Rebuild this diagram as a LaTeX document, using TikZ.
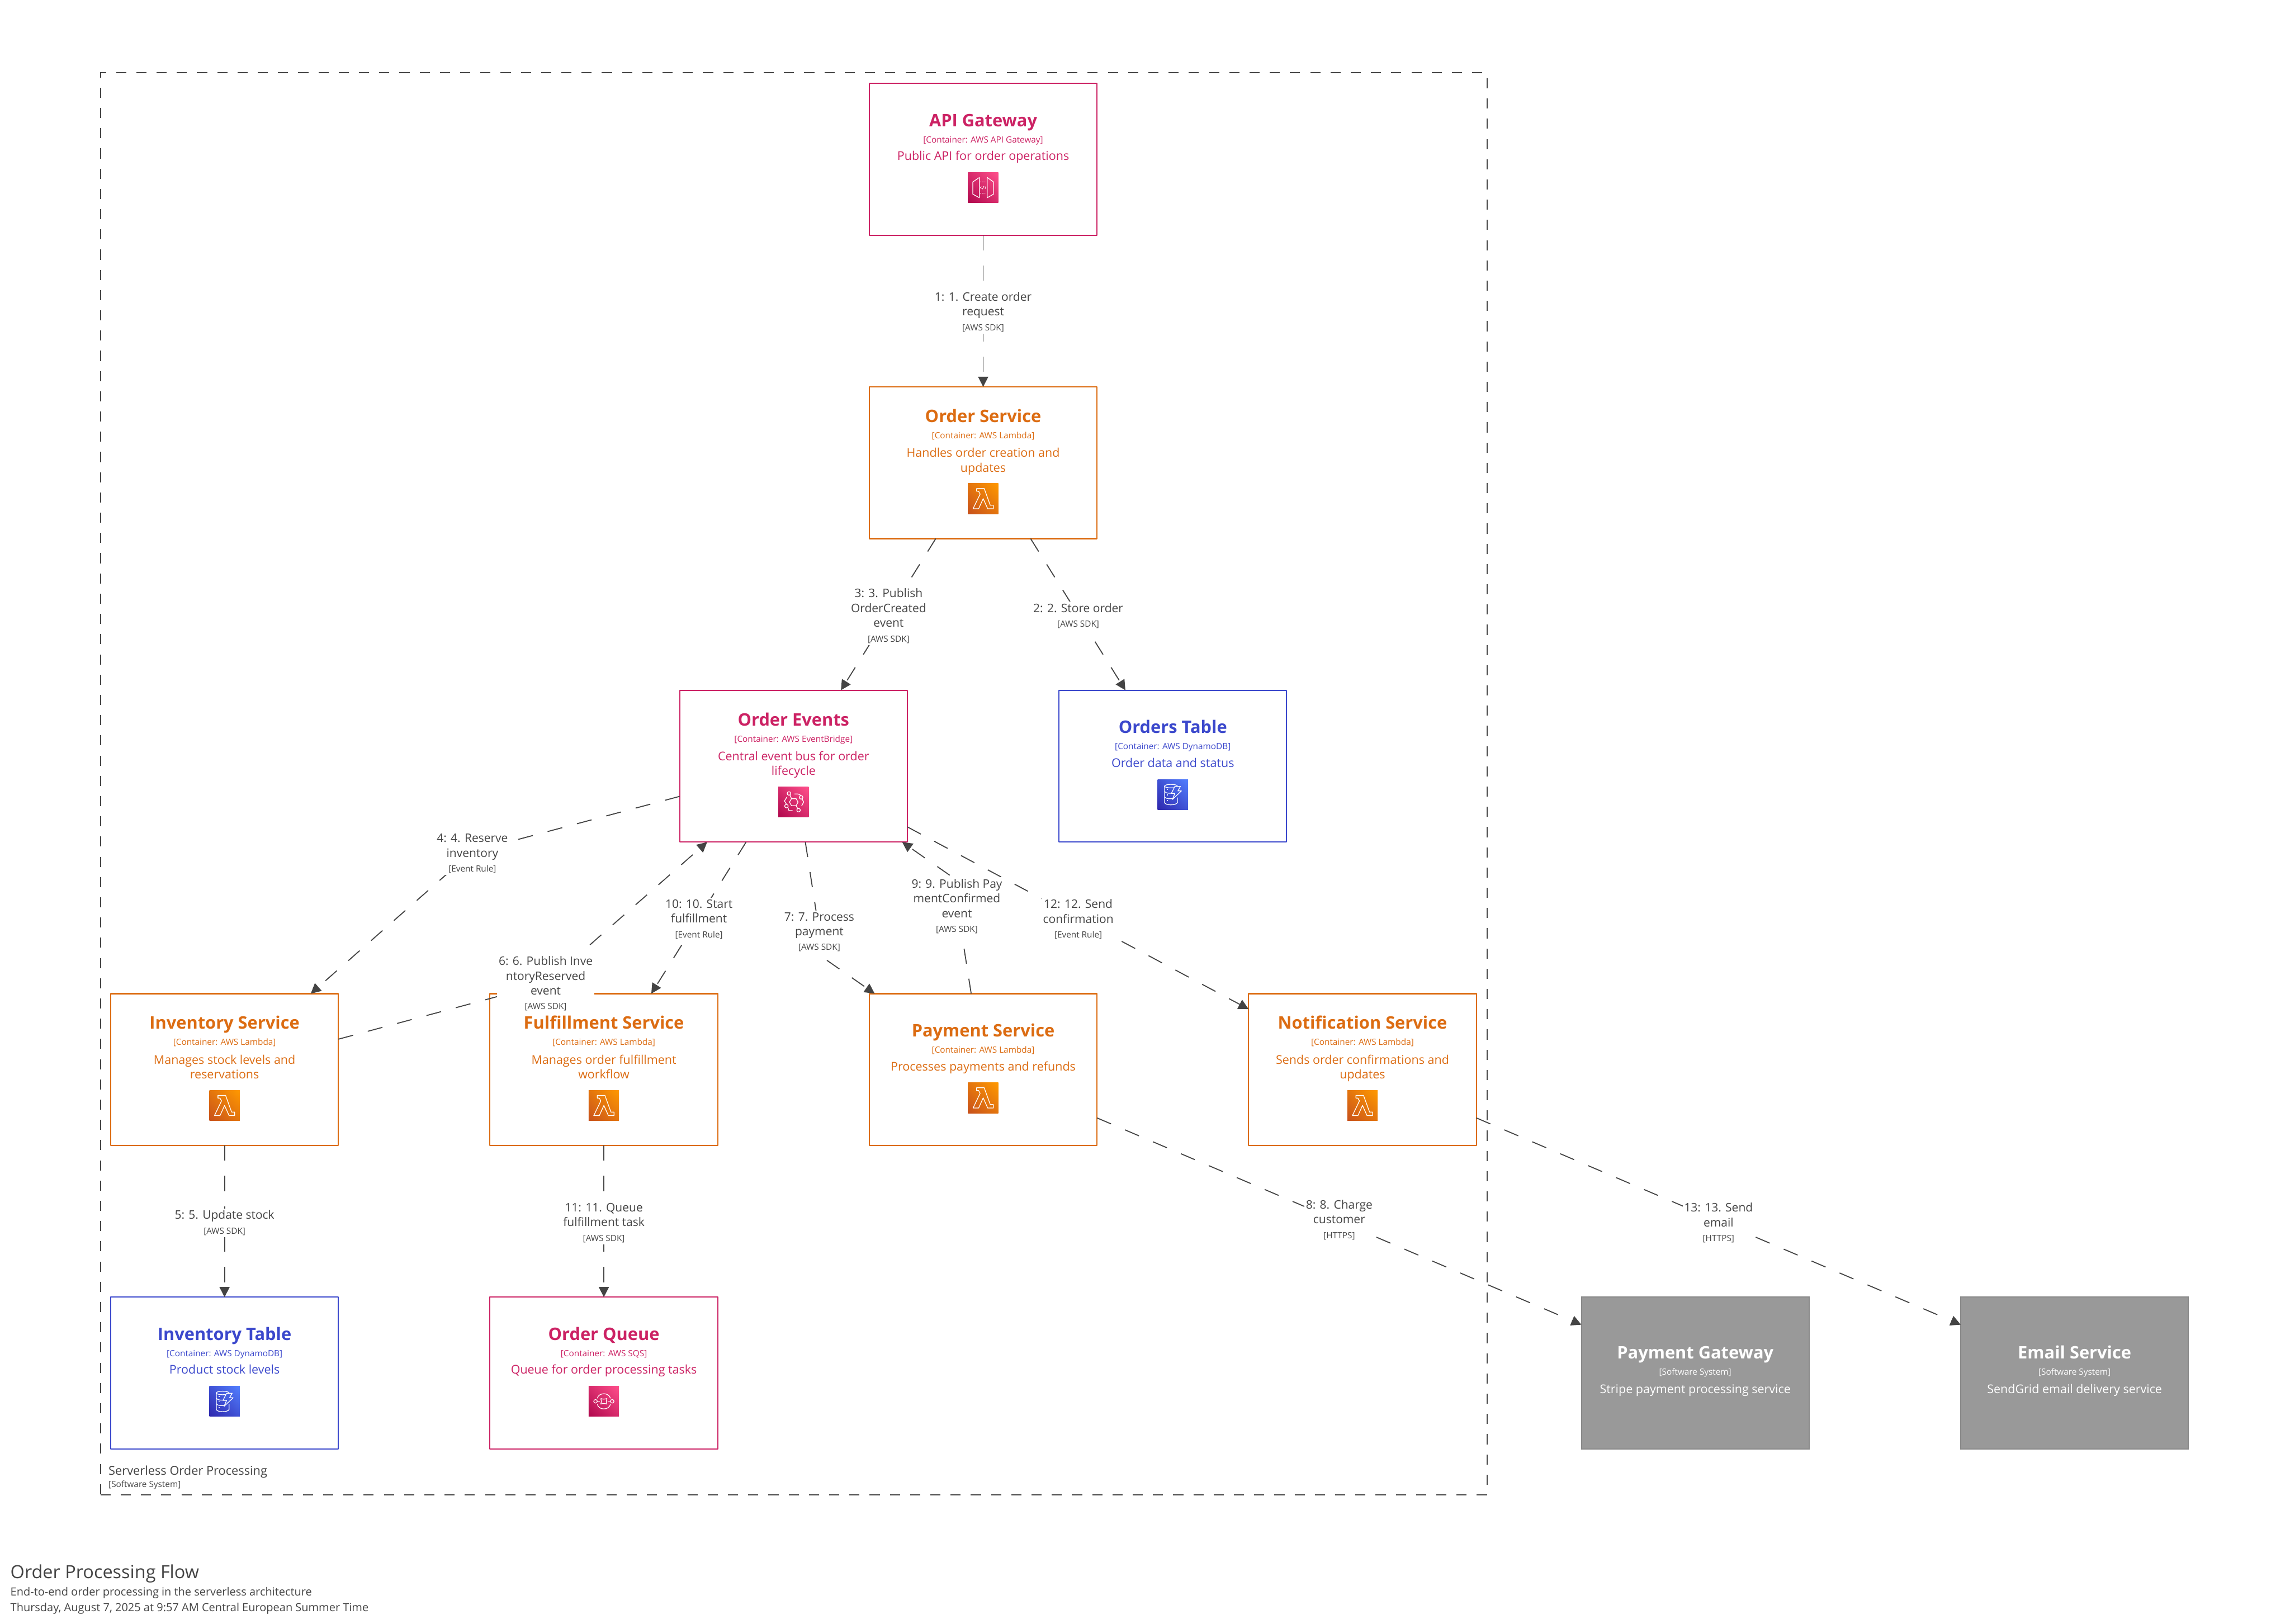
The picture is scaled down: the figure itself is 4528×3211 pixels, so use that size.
\documentclass[tikz,border=0pt]{standalone}
\usepackage{fontspec}
\setmainfont{Open Sans}
\usetikzlibrary{arrows.meta,calc,shadings}
\definecolor{cpink}{HTML}{CC2264}
\definecolor{corange}{HTML}{DC6C12}
\definecolor{cblue}{HTML}{3B48CC}
\definecolor{cink}{HTML}{444444}
\definecolor{cgrey}{HTML}{999999}
\definecolor{cgreyb}{HTML}{8A8A8A}
\newcommand{\ftitle}{\fontsize{9.68}{11}\selectfont\bfseries}
\newcommand{\ftech}{\fontsize{4.82}{8.25}\selectfont}
\newcommand{\fdesc}{\fontsize{6.75}{8.25}\selectfont}
\newcommand{\flbl}{\fontsize{6.6}{8.3}\selectfont}
\newcommand{\fpage}{\fontsize{6.28}{8.25}\selectfont}
\tikzset{
  x=0.01cm,y=-0.01cm,
  sbox/.style={draw=#1,line width=0.65pt,fill=white,rectangle,minimum width=4.5cm,minimum height=3cm,inner sep=0pt,outer sep=0pt,line join=round},
  extbox/.style={draw=cgreyb,line width=0.65pt,fill=cgrey,rectangle,minimum width=4.5cm,minimum height=3cm,inner sep=0pt,outer sep=0pt},
  ttl/.style={anchor=base,inner sep=0pt,font=\ftitle},
  tech/.style={anchor=base,inner sep=0pt,font=\ftech},
  dsc/.style={anchor=base,inner sep=0pt,font=\fdesc},
  conn/.style={draw=cink,line width=0.57pt,dash pattern=on 8.54pt off 8.54pt,-{Triangle[length=5.7pt,width=5.7pt]}},
  lbl/.style={fill=white,text=cink,inner xsep=0.85pt,inner ysep=1pt,align=center,font=\flbl},
  plain/.style={anchor=base west,inner sep=0pt,text=cink},
  ico/.style={draw=white,line width=0.4pt,line join=round},
}
% \svc{name}{x}{y}{colour}{title}{tech}{desc}{desc2}{offset}
\newcommand{\svc}[9]{%
  \node[sbox=#4] (#1) at (#2+225,#3+150) {};
  \node[ttl,text=#4] (#1T) at (#2+225,#3+#9) {#5};
  \node[tech,text=#4] (#1C) at (#2+225,#3+#9+32) {[Container: #6]};
  \ifx&#8&\node[dsc,text=#4] (#1D) at (#2+225,#3+#9+67) {#7};%
  \else\node[dsc,text=#4] (#1D) at (#2+225,#3+#9+69) {#7};%
  \node[dsc,text=#4] (#1E) at (#2+225,#3+#9+98) {#8};\fi
}
\newcommand{\ext}[5]{%
  \node[extbox] (#1) at (#2+225,#3+150) {};
  \node[ttl,text=white] (#1T) at (#2+225,#3+122) {#4};
  \node[tech,text=white] (#1C) at (#2+225,#3+154) {[Software System]};
  \node[dsc,text=white] (#1D) at (#2+225,#3+190) {#5};
}
\newcommand{\icobg}[4]{% x y dark light
  \shade[lower left=#3,upper right=#4,lower right=#3!50!#4,upper left=#3!50!#4] (#1,#2) rectangle (#1+60,#2+60);
}
\newcommand{\icolambda}[2]{\icobg{#1}{#2}{cLa}{cLb}
  \begin{scope}[shift={(#1,#2)}]
  \draw[ico] (17,10)--(32,10)--(44,43)--(50,43)--(50,50)--(39,50)--(30,30)--(21,50)--(10,50)--(24,21)--(21,15.5)--(17,15.5)--cycle;
  \end{scope}}
\newcommand{\icoapi}[2]{\icobg{#1}{#2}{cPa}{cPb}
  \begin{scope}[shift={(#1,#2)}]
  \draw[ico] (9.6,18.7)--(22.5,10)--(22.5,50)--(9.6,43)--cycle;
  \draw[ico] (38,10)--(50.4,18.7)--(50.4,43)--(38,50)--cycle;
  \draw[ico,dash pattern=on 0.5pt off 0.5pt] (24,19)--(37,19) (24,41)--(37,41);
  \draw[ico,line width=0.3pt] (26.5,28)--(24.5,30)--(26.5,32) (33.5,28)--(35.5,30)--(33.5,32) (31.5,27)--(28.5,33);
  \end{scope}}
\newcommand{\icobus}[2]{\icobg{#1}{#2}{cPa}{cPb}
  \begin{scope}[shift={(#1,#2)}]
  \draw[ico] (22,30)--(26,23.3)--(35,23.3)--(39,30)--(35,37.3)--(26,37.3)--cycle;
  \draw[ico] (21,13) circle[radius=3.5] (45,20.7) circle[radius=3.5] (16,38) circle[radius=3.5] (40,46) circle[radius=3.5];
  \draw[ico] (23,16)--(26,23.3) (32,14)--(39,14)--(45,17) (47,24)--(50,30)--(46,38) (16,34)--(12,28)--(17,20) (19,41)--(21,47)--(28,47) (35,37.3)--(38.5,43);
  \end{scope}}
\newcommand{\icoqueue}[2]{\icobg{#1}{#2}{cPa}{cPb}
  \begin{scope}[shift={(#1,#2)}]
  \draw[ico] (17,24) .. controls (20,12) and (40,12) .. (43,24);
  \draw[ico] (17,36) .. controls (20,48) and (40,48) .. (43,36);
  \draw[ico] (13.5,30) circle[radius=3.5] (46.5,30) circle[radius=3.5];
  \draw[ico] (17,30)--(22.5,30) (37.5,30)--(43,30);
  \draw[ico] (24,24.5) .. controls (28,26) and (32,26) .. (36,24.5) .. controls (34.5,28) and (34.5,32) .. (36,35.5) .. controls (32,34) and (28,34) .. (24,35.5) .. controls (25.5,32) and (25.5,28) .. (24,24.5);
  \end{scope}}
\newcommand{\icodb}[2]{\icobg{#1}{#2}{cBa}{cBb}
  \begin{scope}[shift={(#1,#2)}]
  \draw[ico] (26.3,13.5) ellipse[x radius=12.7,y radius=3.5];
  \draw[ico] (13.7,13.5)--(13.7,46) .. controls (15,52) and (37,52) .. (39,46)--(39,36);
  \draw[ico] (13.7,24) .. controls (16,28) and (25,28) .. (29,27.5);
  \draw[ico] (13.7,35) .. controls (16,39) and (26,39) .. (31,38);
  \draw[ico] (18,20.5)--(20,20.5) (18,31)--(20,31) (18,42)--(20,42);
  \draw[ico,fill=cBb!65!cBa] (34,14)--(45,14)--(40,23)--(47,23)--(29,40)--(34,28)--(27,28)--cycle;
  \end{scope}}
\definecolor{cLa}{HTML}{C8511B}\definecolor{cLb}{HTML}{FF9900}
\definecolor{cPa}{HTML}{B0084D}\definecolor{cPb}{HTML}{FF4F8B}
\definecolor{cBa}{HTML}{2E27AD}\definecolor{cBb}{HTML}{527FFF}
\begin{document}
\begin{tikzpicture}
\useasboundingbox (0,0) rectangle (4528,3211);
\fill[white] (0,0) rectangle (4528,3211);
% boundary
\node[rectangle,draw=cink,line width=0.62pt,dash pattern=on 5.69pt off 5.69pt,minimum width=27.4cm,minimum height=28.1cm,inner sep=0pt,outer sep=0pt] (boundary) at (1569.5,1550) {};
\node[plain,font=\fontsize{6.85}{8.25}\selectfont] (boundaryT) at (214,2917) {Serverless Order Processing};
\node[plain,font=\ftech] (boundaryC) at (214,2941) {[Software System]};
% boxes
\svc{api}{1719}{165}{cpink}{API Gateway}{AWS API Gateway}{Public API for order operations}{}{85}
\icoapi{1914}{341}
\svc{ordersvc}{1719}{765}{corange}{Order Service}{AWS Lambda}{Handles order creation and}{updates}{70}
\icolambda{1914}{956}
\svc{events}{1344}{1365}{cpink}{Order Events}{AWS EventBridge}{Central event bus for order}{lifecycle}{70}
\icobus{1539}{1556}
\svc{otable}{2094}{1365}{cblue}{Orders Table}{AWS DynamoDB}{Order data and status}{}{85}
\icodb{2289}{1541}
\svc{inv}{219}{1965}{corange}{Inventory Service}{AWS Lambda}{Manages stock levels and}{reservations}{70}
\icolambda{414}{2156}
\svc{ful}{969}{1965}{corange}{Fulfillment Service}{AWS Lambda}{Manages order fulfillment}{workflow}{70}
\icolambda{1164}{2156}
\svc{pay}{1719}{1965}{corange}{Payment Service}{AWS Lambda}{Processes payments and refunds}{}{85}
\icolambda{1914}{2141}
\svc{notif}{2469}{1965}{corange}{Notification Service}{AWS Lambda}{Sends order confirmations and}{updates}{70}
\icolambda{2664}{2156}
\svc{itable}{219}{2565}{cblue}{Inventory Table}{AWS DynamoDB}{Product stock levels}{}{85}
\icodb{414}{2741}
\svc{queue}{969}{2565}{cpink}{Order Queue}{AWS SQS}{Queue for order processing tasks}{}{85}
\icoqueue{1164}{2741}
\ext{gateway}{3127}{2565}{Payment Gateway}{Stripe payment processing service}
\ext{email}{3877}{2565}{Email Service}{SendGrid email delivery service}
% connector waypoints
\coordinate (w4) at (934,1684);
\coordinate (w6) at (1079,1945);
\coordinate (w7) at (1628,1894);
\coordinate (w9) at (1884,1735);
% connectors
\draw[conn] (api) -- (ordersvc);
\draw[conn] (ordersvc) -- (otable);
\draw[conn] (ordersvc) -- (events);
\draw[conn] (events) -- (w4) -- (inv);
\draw[conn] (inv) -- (itable);
\draw[conn] (inv) -- (w6) -- (events);
\draw[conn] (events) -- (w7) -- (pay);
\draw[conn] (pay) -- (gateway);
\draw[conn] (pay) -- (w9) -- (events);
\draw[conn] (events) -- (ful);
\draw[conn] (ful) -- (queue);
\draw[conn] (events) -- (notif);
\draw[conn] (notif) -- (email);
% labels
\node[lbl] (l1) at (1944,617) {1: 1. Create order\\request\\\ftech [AWS SDK]};
\node[lbl] (l2) at (2132,1218) {2: 2. Store order\\\ftech [AWS SDK]};
\node[lbl] (l3) at (1757,1218) {3: 3. Publish\\OrderCreated\\event\\\ftech [AWS SDK]};
\node[lbl] (l4) at (934,1688) {4: 4. Reserve\\inventory\\\ftech [Event Rule]};
\node[lbl] (l5) at (444,2418) {5: 5. Update stock\\\ftech [AWS SDK]};
\node[lbl] (l6) at (1079,1945) {6: 6. Publish Inve\\ntoryReserved\\event\\\ftech [AWS SDK]};
\node[lbl] (l7) at (1620,1843) {7: 7. Process\\payment\\\ftech [AWS SDK]};
\node[lbl] (l8) at (2648,2412) {8: 8. Charge\\customer\\\ftech [HTTPS]};
\node[lbl] (l9) at (1892,1792) {9: 9. Publish Pay\\mentConfirmed\\event\\\ftech [AWS SDK]};
\node[lbl] (l10) at (1382,1818) {10: 10. Start\\fulfillment\\\ftech [Event Rule]};
\node[lbl] (l11) at (1194,2418) {11: 11. Queue\\fulfillment task\\\ftech [AWS SDK]};
\node[lbl] (l12) at (2132,1818) {12: 12. Send\\confirmation\\\ftech [Event Rule]};
\node[lbl] (l13) at (3398,2418) {13: 13. Send\\email\\\ftech [HTTPS]};
% titles
\node[plain,font=\fontsize{10.2}{12}\selectfont] (pageT) at (20,3121) {Order Processing Flow};
\node[plain,font=\fpage] (pageS) at (20,3155) {End-to-end order processing in the serverless architecture};
\node[plain,font=\fpage] (pageD) at (20,3187) {Thursday, August 7, 2025 at 9:57 AM Central European Summer Time};
\end{tikzpicture}
\end{document}
